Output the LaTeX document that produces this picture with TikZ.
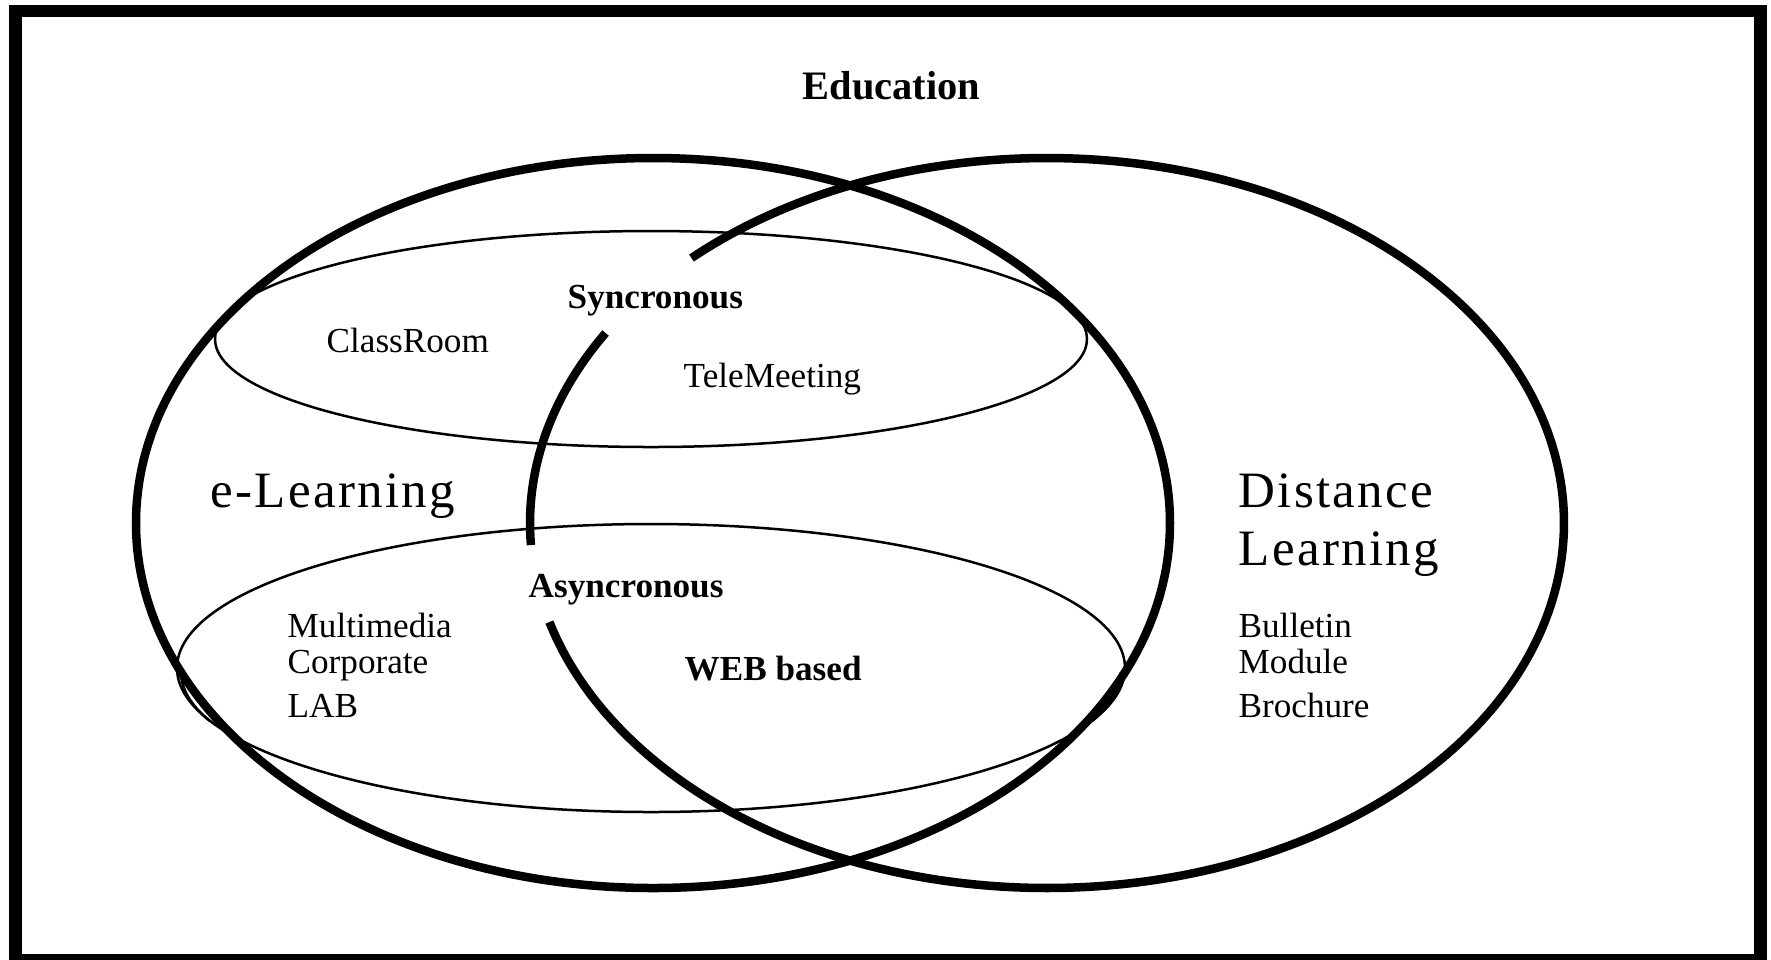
\documentclass[tikz,border=0pt]{standalone}
\usepackage{fontspec}
\setmainfont{Liberation Serif}
\newfontfamily\setnamefont[LetterSpace=4.5]{Liberation Serif}
\usetikzlibrary{positioning}
\tikzset {
  % heavy outline of the two sets
  set path/.style = {
    draw = black,
    line width = 0.085cm
  },
  % light outline of the two delivery modes
  mode path/.style = {
    draw = black,
    line width = 0.025cm
  },
  frame path/.style = {
    draw = black,
    line width = 0.125cm
  }
}
\tikzset {
  text node/.style = {
    inner sep = 0,
    anchor = base west
  },
  % big set names
  set name/.style = {
    text node,
    font = \setnamefont\fontsize{14.5}{17}\selectfont
  },
  % bold mode names
  mode name/.style = {
    text node,
    font = \bfseries\fontsize{10}{12}\selectfont
  },
  item text/.style = {
    text node,
    font = \fontsize{10}{12}\selectfont
  },
  head text/.style = {
    text node,
    font = \bfseries\fontsize{11.5}{14}\selectfont
  }
}

\begin{document}
\begin{tikzpicture}[x=0.01cm, y=-0.01cm]
    \useasboundingbox (0,0) rectangle (1771,959);

    \coordinate (left set) at (653,523);
    \coordinate (right set) at (1047,523);
    \coordinate (sync set) at (651,339);
    \coordinate (async set) at (651,668);

    % frame
    \draw[frame path] (15.5,11) rectangle (1760.5,960.5);

    % delivery modes
    \draw[mode path] (sync set) ellipse [x radius=436, y radius=108];
    \draw[mode path] (async set) ellipse [x radius=474, y radius=144];
    \draw[mode path] (async set) ++(0,4) ++(160:470 and 142)
      arc[start angle=160, end angle=180, x radius=470, y radius=142];
    \draw[mode path] (async set) ++(0,4) ++(0:470 and 142)
      arc[start angle=0, end angle=20, x radius=470, y radius=142];

    % e-learning set
    \draw[set path] (left set) ellipse [x radius=517, y radius=365];

    % distance learning set, broken round the mode names
    \draw[set path] (right set) ++(226.55:517 and 365)
      arc[start angle=226.55, end angle=524.26, x radius=517, y radius=365];
    \draw[set path] (right set) ++(176.54:517 and 365)
      arc[start angle=176.54, end angle=211.37, x radius=517, y radius=365];

    \node[head text] (education) at (802,99) {Education};

    \node[set name] (elearning) at (210,507) {e-Learning};
    \node[set name] (distance) at (1238,507) {Distance};
    \node[set name, below=0.58cm of distance.base west, anchor=base west]
      (distance learning) {Learning};

    \node[mode name] (sync) at (567,308) {Syncronous};
    \node[mode name] (async) at (528,597) {Asyncronous};

    \node[item text] (classroom) at (326,352) {ClassRoom};
    \node[item text] (telemeeting) at (683,387) {TeleMeeting};
    \node[mode name] (web) at (684,680) {WEB based};

    \node[item text] (multimedia) at (287,637) {Multimedia};
    \node[item text, below=0.36cm of multimedia.base west, anchor=base west]
      (corporate) {Corporate};
    \node[item text, below=0.44cm of corporate.base west, anchor=base west]
      (lab) {LAB};

    \node[item text] (bulletin) at (1238,637) {Bulletin};
    \node[item text, below=0.36cm of bulletin.base west, anchor=base west]
      (module) {Module};
    \node[item text, below=0.44cm of module.base west, anchor=base west]
      (brochure) {Brochure};
\end{tikzpicture}
\end{document}
